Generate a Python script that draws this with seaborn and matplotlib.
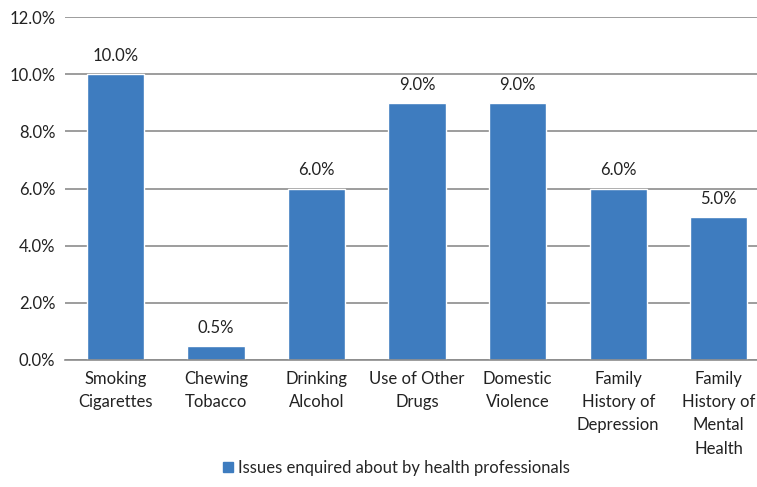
import matplotlib
matplotlib.use("Agg")
import matplotlib.pyplot as plt
import seaborn as sns
import pandas as pd
from matplotlib.patches import Patch

categories = ["Smoking\nCigarettes", "Chewing\nTobacco", "Drinking\nAlcohol",
              "Use of Other\nDrugs", "Domestic\nViolence", "Family\nHistory of\nDepression",
              "Family\nHistory of\nMental\nHealth"]
values = [10.0, 0.5, 6.0, 9.0, 9.0, 6.0, 5.0]
series_name = "Issues enquired about by health professionals"
yticks = [0, 2, 4, 6, 8, 10, 12]

sns.set_theme(style="white")
plt.rcParams['font.family'] = ['Lato', 'DejaVu Sans']

W, H = 757, 487
fig = plt.figure(figsize=(W/100, H/100), dpi=100)
ax = fig.add_axes([65/W, 1-360/H, (757-65)/W, (360-17)/H])

df = pd.DataFrame({"cat": categories, "val": values})
color = "#3E7CBF"
sns.barplot(data=df, x="cat", y="val", color=color, width=0.57, ax=ax, saturation=1)

FS = 12
for p, v in zip(ax.patches, values):
    ax.text(p.get_x() + p.get_width()/2, v + 0.35, f"{v:.1f}%", ha="center", va="bottom",
            fontsize=FS, color="#222222")

ax.set_ylim(0, 12)
ax.set_xlim(-0.5, 6.38)
ax.set_yticks(yticks)
ax.set_yticklabels([f"{t:.1f}%" for t in yticks], fontsize=FS, color="#222222")
ax.set_xticklabels(categories, fontsize=FS, color="#222222", linespacing=1.55)
ax.yaxis.grid(True, color="#8c8c8c", linewidth=1.2)
ax.set_axisbelow(True)
ax.tick_params(axis="both", length=0)
ax.tick_params(axis="x", pad=8)
ax.tick_params(axis="y", pad=7)
for s in ["top", "right", "left"]:
    ax.spines[s].set_visible(False)
ax.spines["bottom"].set_color("#8c8c8c")
ax.spines["bottom"].set_linewidth(1.2)
ax.set_xlabel("")
ax.set_ylabel("")

handle = Patch(facecolor=color, edgecolor=color)
fig.legend([handle], [series_name], loc="center", bbox_to_anchor=(396/W, 1-468/H),
           frameon=False, fontsize=FS, handlelength=0.6, handleheight=0.6, handletextpad=0.3)

fig.savefig("out.png", dpi=100)
